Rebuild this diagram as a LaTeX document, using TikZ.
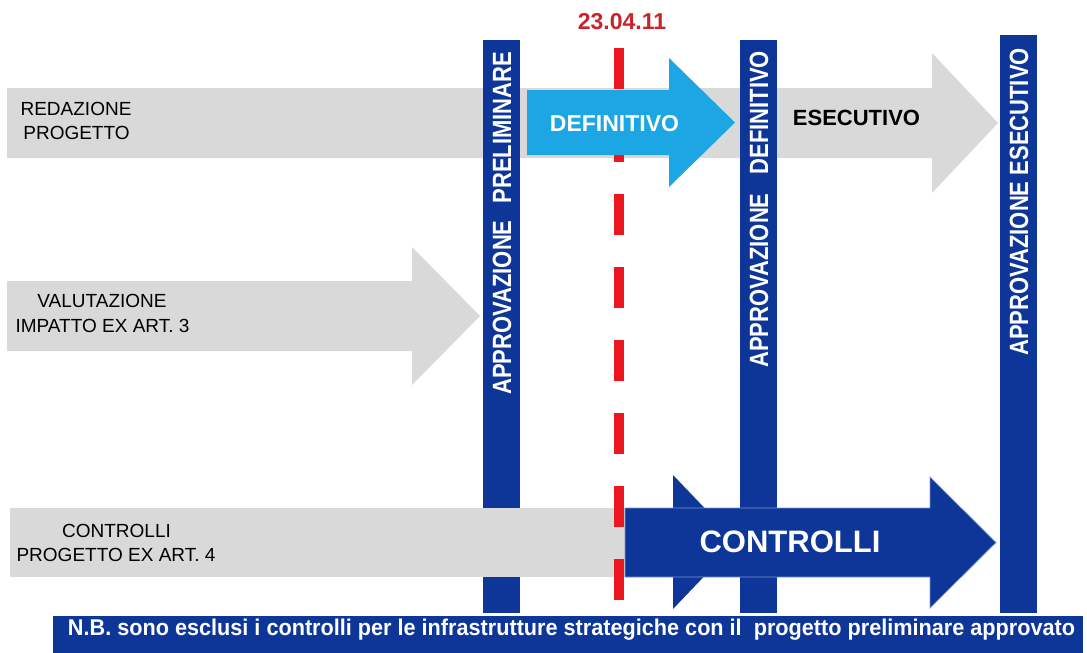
\documentclass[tikz,border=0pt]{standalone}
\usepackage{fontspec}
\setmainfont{Liberation Sans}
\usepackage{graphicx}
\definecolor{gband}{RGB}{217,217,217}
\definecolor{dkblue}{RGB}{14,54,152}
\definecolor{ltblue}{RGB}{28,166,228}
\definecolor{dashred}{RGB}{236,22,30}
\definecolor{datered}{RGB}{200,36,42}
\definecolor{edgeblue}{RGB}{120,150,210}
\begin{document}
\begin{tikzpicture}[x=1pt,y=-1pt,
  graytxt/.style={font=\fontsize{19}{23}\selectfont, text=black, anchor=base, inner sep=0pt},
  bartxt/.style={font=\bfseries\fontsize{22}{22}\selectfont, text=white, rotate=90, anchor=base west, inner sep=0pt},
  boldtxt/.style={font=\bfseries, anchor=base, inner sep=0pt},
  barfill/.style={fill=dkblue}]
\useasboundingbox (0,0) rectangle (1087,653);
\fill[white] (0,0) rectangle (1087,653);
% gray arrow REDAZIONE / ESECUTIVO
\fill[gband] (7,88) -- (932,88) -- (932,53) -- (998,123) -- (932,193) -- (932,158) -- (7,158) -- cycle;
% gray arrow VALUTAZIONE
\fill[gband] (7,281) -- (412,281) -- (412,247) -- (480,316) -- (412,385) -- (412,351) -- (7,351) -- cycle;
% vertical bars
\fill[barfill] (483,40) rectangle (520,613);
\fill[barfill] (740,40) rectangle (777,613);
\fill[barfill] (1000,35) rectangle (1037,613);
\node[bartxt] (b1) at (511,395) {\scalebox{1}[1.2]{APPROVAZIONE\hspace{17pt}PRELIMINARE}};
\node[bartxt] (b2) at (768,368) {\scalebox{1}[1.2]{APPROVAZIONE\hspace{19pt}DEFINITIVO}};
\node[bartxt] (b3) at (1028,356) {\scalebox{1}[1.2]{APPROVAZIONE ESECUTIVO}};
% gray band CONTROLLI
\fill[gband] (10,508) rectangle (625,577);
% red dashed line
\draw[dashred, line width=10pt, dash pattern=on 41pt off 32pt] (619,48) -- (619,602);
% blue DEFINITIVO arrow
\fill[ltblue] (527,90) -- (669,90) -- (669,58) -- (735,122.5) -- (669,187) -- (669,155) -- (527,155) -- cycle;
% small dark arrowhead
\fill[dkblue] (673,475) -- (737,542) -- (673,609) -- cycle;
% dark CONTROLLI arrow
\filldraw[fill=dkblue, draw=edgeblue, line width=0.7pt] (625,508) -- (930,508) -- (930,477) -- (996,542.5) -- (930,608) -- (930,577) -- (625,577) -- cycle;
% banner
\fill[dkblue] (53,616) rectangle (1083,653);
% texts
\node[graytxt] (red1) at (76,115) {REDAZIONE};
\node[graytxt] (red2) at (76.5,139) {PROGETTO};
\node[graytxt] (val1) at (102,307) {VALUTAZIONE};
\node[graytxt] (val2) at (102.5,332) {IMPATTO EX ART. 3};
\node[graytxt] (con1) at (116.5,537) {CONTROLLI};
\node[graytxt] (con2) at (116,561) {PROGETTO EX ART. 4};
\node[boldtxt, font=\bfseries\fontsize{23}{23}\selectfont, text=white] (deftxt) at (614.5,131) {DEFINITIVO};
\node[boldtxt, font=\bfseries\fontsize{22}{22}\selectfont, text=black] (esetxt) at (856.5,125) {ESECUTIVO};
\node[boldtxt, font=\bfseries\fontsize{31}{31}\selectfont, text=white] (contxt) at (790,552) {CONTROLLI};
\node[boldtxt, font=\bfseries\fontsize{23}{23}\selectfont, text=datered] (date) at (622,29.5) {23.04.11};
\node[anchor=base, inner sep=0pt, text=white] (nb) at (571.5,635) {\resizebox{1007pt}{16.5pt}{\bfseries N.B. sono esclusi i controlli per le infrastrutture strategiche con il\ \ progetto preliminare approvato}};
\end{tikzpicture}
\end{document}
